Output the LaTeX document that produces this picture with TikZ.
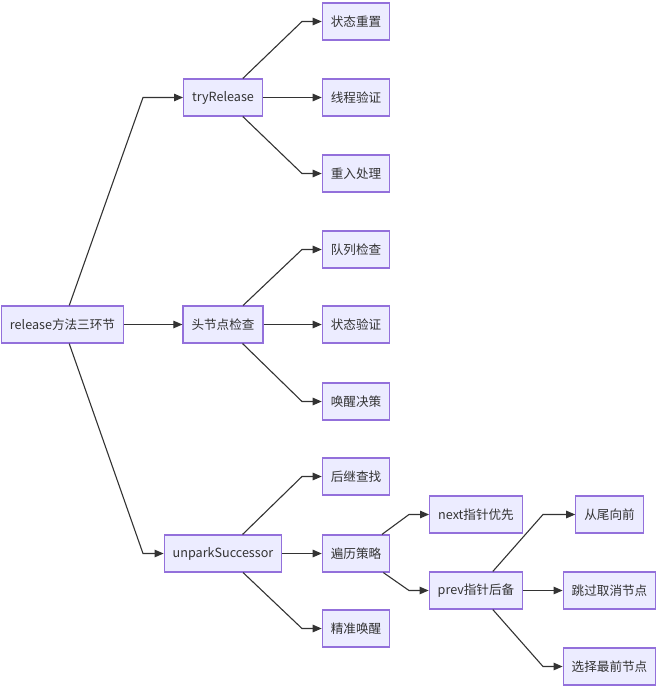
\documentclass[tikz,border=0pt]{standalone}
\usepackage{fontspec}
\usepackage{tikz}
\usetikzlibrary{arrows.meta}
\newfontfamily\cjk{Noto Sans CJK SC}
\definecolor{boxfill}{RGB}{236,236,255}
\definecolor{boxline}{RGB}{147,112,219}
\definecolor{ink}{RGB}{51,51,51}
\tikzset{
  box/.style={draw=boxline,fill=boxfill,line width=1.2pt,minimum height=37pt,inner xsep=8.5pt,inner ysep=0pt,font=\cjk\fontsize{12.6}{15}\selectfont,text=ink},
  link/.style={draw=ink,line width=1.1pt,-{Triangle[length=9pt,width=7.5pt]}}
}
\begin{document}
\begin{tikzpicture}[x=1pt,y=-1pt]
  \useasboundingbox (0,0) rectangle (665,688);
  % bend columns, one per rank
  \coordinate (k1) at (143,0); \coordinate (k2) at (302,0);
  \coordinate (k3) at (409,0); \coordinate (k4) at (543,0);
  \node[box] (root) at (62.5,324.5) {release方法三环节};
  \node[box] (tr) at (223,97.5) {tryRelease};
  \node[box] (hd) at (223,324.5) {头节点检查};
  \node[box] (us) at (223,553.5) {unparkSuccessor};
  \node[box] (tr1) at (356,21.5) {状态重置};
  \node[box] (tr2) at (356,97.5) {线程验证};
  \node[box] (tr3) at (356,173.5) {重入处理};
  \node[box] (hd1) at (356,249.5) {队列检查};
  \node[box] (hd2) at (356,324.5) {状态验证};
  \node[box] (hd3) at (356,401.5) {唤醒决策};
  \node[box] (us1) at (356,476.5) {后继查找};
  \node[box] (us2) at (356,553.5) {遍历策略};
  \node[box] (us3) at (356,628.5) {精准唤醒};
  \node[box] (nx) at (476,514.5) {next指针优先};
  \node[box] (pv) at (476,590.5) {prev指针后备};
  \node[box] (pv1) at (609.5,514.5) {从尾向前};
  \node[box] (pv2) at (609.5,590.5) {跳过取消节点};
  \node[box] (pv3) at (609.5,666.5) {选择最前节点};
  \foreach \p/\c/\k in {root/tr/k1,root/hd/k1,root/us/k1,
      tr/tr1/k2,tr/tr2/k2,tr/tr3/k2,hd/hd1/k2,hd/hd2/k2,hd/hd3/k2,
      us/us1/k2,us/us2/k2,us/us3/k2,us2/nx/k3,us2/pv/k3,
      pv/pv1/k4,pv/pv2/k4,pv/pv3/k4}
    \draw[link] (\p) -- (\c -| \k) -- (\c);
\end{tikzpicture}
\end{document}
